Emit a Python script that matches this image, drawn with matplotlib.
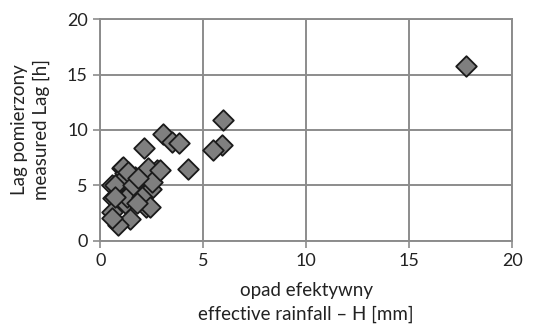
import matplotlib
matplotlib.use("Agg")
import matplotlib.pyplot as plt

# effective rainfall H [mm] vs measured lag [h]
rain_h = [17.75, 5.94, 5.89, 5.45, 4.27, 3.03, 3.46, 3.83, 2.12, 2.73,
          2.33, 2.20, 2.46, 2.50, 1.76, 1.68, 1.49, 1.44, 1.20, 1.04,
          1.20, 0.95, 0.55, 0.63, 0.55, 0.87, 0.58, 1.76, 1.28, 1.12,
          1.35, 2.90, 0.71, 1.60, 1.85, 0.71, 2.00, 2.40, 1.77]
lag = [15.8, 10.9, 8.65, 8.2, 6.45, 9.64, 8.95, 8.86, 8.4, 6.4,
       6.55, 3.1, 4.65, 5.3, 4.3, 5.8, 4.65, 2.0, 3.4, 6.55,
       6.15, 5.35, 5.05, 3.85, 2.65, 1.45, 2.05, 3.7, 4.0, 6.7,
       6.2, 6.4, 5.05, 5.05, 5.65, 4.0, 4.0, 3.1, 3.4]

plt.rcParams['font.family'] = ['Lato', 'DejaVu Sans']

fig = plt.figure(figsize=(5.35, 3.25), dpi=100)
ax = fig.add_axes([0.1875, 0.2585, 0.77, 0.683])

ax.scatter(rain_h, lag, marker='D', s=110, facecolor='#7f7f7f',
           edgecolor='#1a1a1a', linewidth=1.3, zorder=3, clip_on=False)

ax.set_xlim(0, 20)
ax.set_ylim(0, 20)
ax.set_xticks([0, 5, 10, 15, 20])
ax.set_yticks([0, 5, 10, 15, 20])
ax.grid(True, color='#8c8c8c', linewidth=1.4)
ax.set_axisbelow(True)
for s in ax.spines.values():
    s.set_color('#8c8c8c')
    s.set_linewidth(1.4)
ax.tick_params(length=5, width=1.2, color='#8c8c8c', labelsize=13,
               labelcolor='#222222', pad=4)

ax.set_xlabel("opad efektywny\neffective rainfall – H [mm]", fontsize=13.5,
              color='#222222', linespacing=1.45, labelpad=9)
ax.set_ylabel("Lag pomierzony\nmeasured Lag [h]", fontsize=13.5,
              color='#222222', linespacing=1.35, labelpad=12)

fig.savefig("out.png", dpi=100)
